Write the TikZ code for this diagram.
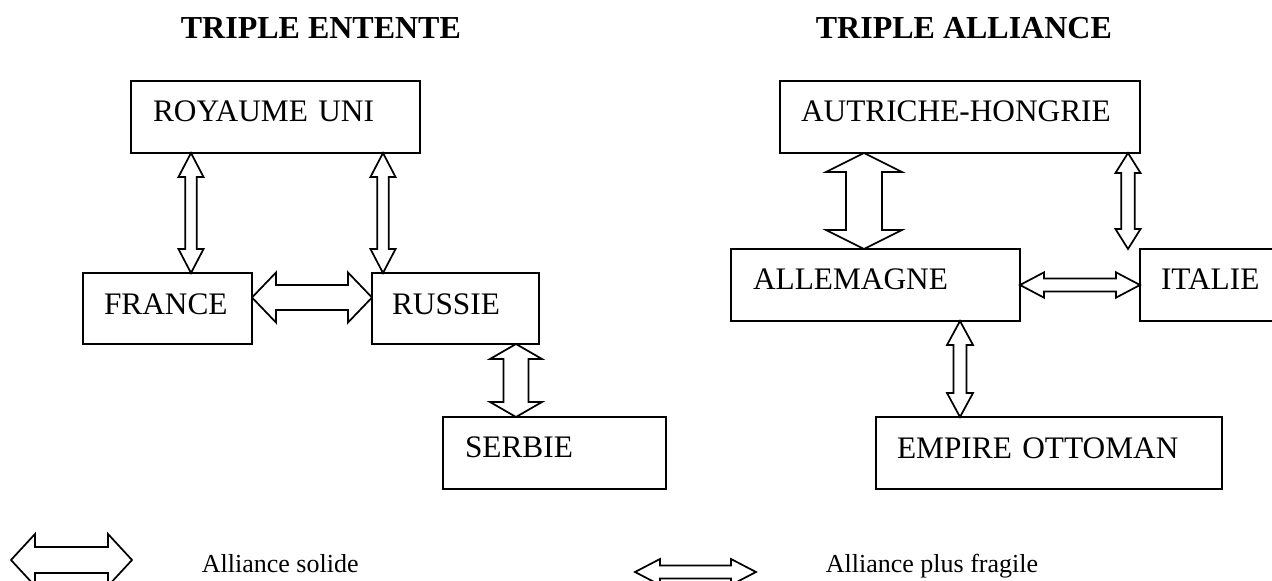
\documentclass[tikz,border=0pt]{standalone}
\usepackage{fontspec}
\setmainfont{Liberation Serif}
\usetikzlibrary{calc}

\begin{document}
\begin{tikzpicture}[x = 0.75pt, y = -0.75pt, line width = 1.3pt,
                        box/.style = {draw, anchor = north west, outer sep = 0pt, inner ysep = 0pt, align = left,
                                      font = \fontsize{23.5pt}{28pt}\selectfont},
                        title/.style = {anchor = base west, inner sep = 0pt, font = \fontsize{24pt}{29pt}\selectfont\bfseries},
                        legend/.style = {anchor = base west, inner sep = 0pt, font = \fontsize{19.5pt}{23pt}\selectfont},
                        alliance/.style n args = {3}{line join = miter,
                          to path = {let \p1 = (\tikztostart), \p2 = (\tikztotarget),
                                         \n1 = {atan2(\y2-\y1,\x2-\x1)}, \n2 = {veclen(\x2-\x1,\y2-\y1)} in
                                     [shift = {(\p1)}, rotate = \n1]
                                     (0pt,0pt) -- (#3,#2) -- (#3,#1) -- ({\n2*1pt-#3},#1) -- ({\n2*1pt-#3},#2)
                                     -- ({\n2*1pt},0pt) -- ({\n2*1pt-#3},-#2) -- ({\n2*1pt-#3},-#1)
                                     -- (#3,-#1) -- (#3,-#2) -- cycle}}]
      \useasboundingbox (0,0) rectangle (1272,581);

      \node [title] (entente) at (180,39) {TRIPLE ENTENTE};
      \node [title] (triplice) at (815,39) {TRIPLE ALLIANCE};

      \node [box, inner xsep = 16.5pt, text width = 183.75pt, text height = 30.75pt, text depth = 23.25pt] (uk) at (131,81) {ROYAUME UNI};
      \node [box, inner xsep = 15.75pt, text width = 95.25pt, text height = 31.5pt, text depth = 21.75pt] (fr) at (83,273) {FRANCE};
      \node [box, inner xsep = 15pt, text width = 95.25pt, text height = 31.5pt, text depth = 21.75pt] (rus) at (372,273) {RUSSIE};
      \node [box, inner xsep = 16.5pt, text width = 134.25pt, text height = 30pt, text depth = 24pt] (se) at (443,417) {SERBIE};

      \node [box, inner xsep = 15.75pt, text width = 238.5pt, text height = 30.75pt, text depth = 23.25pt] (ah) at (780,81) {AUTRICHE-HONGRIE};
      \node [box, inner xsep = 16.5pt, text width = 183.75pt, text height = 30.75pt, text depth = 23.25pt] (al) at (731,249) {ALLEMAGNE};
      \node [box, inner xsep = 15.75pt, text width = 81pt, text height = 30.75pt, text depth = 23.25pt] (it) at (1140,249) {ITALIE};
      \node [box, inner xsep = 15.75pt, text width = 228pt, text height = 30.75pt, text depth = 23.25pt] (eo) at (876,417) {EMPIRE OTTOMAN};

      \coordinate (uk-fr) at ($(uk.south west)+(60,0)$);
      \coordinate (uk-rus) at ($(uk.south east)+(-37,0)$);
      \coordinate (fr-rus) at ($(fr.east)+(0,-11)$);
      \coordinate (rus-se) at ($(rus.south west)+(144,0)$);
      \coordinate (ah-al) at ($(ah.south west)+(84,0)$);
      \coordinate (ah-it) at ($(ah.south east)+(-12,0)$);
      \coordinate (al-eo) at ($(al.south west)+(229,0)$);

      \draw [alliance = {4.3pt}{9.4pt}{18pt}] (uk-fr) to (uk-fr |- fr.north);
      \draw [alliance = {4.3pt}{9.4pt}{18pt}] (uk-rus) to (uk-rus |- rus.north);
      \draw [alliance = {9.4pt}{18.75pt}{18pt}] (fr-rus) to (fr-rus -| rus.west);
      \draw [alliance = {9.4pt}{19.5pt}{11.25pt}] (rus-se) to (rus-se |- se.north);

      \draw [alliance = {13.5pt}{28.5pt}{14.25pt}] (ah-al) to (ah-al |- al.north);
      \draw [alliance = {5pt}{9.4pt}{15pt}] (ah-it) to (ah-it |- it.north);
      \draw [alliance = {4.9pt}{9.5pt}{18pt}] (al.east) to (al.east -| it.west);
      \draw [alliance = {4.9pt}{9.75pt}{18pt}] (al-eo) to (al-eo |- eo.north);

      % legende
      \coordinate (solide-a) at (11,560);
      \coordinate (solide-b) at (132,560);
      \coordinate (fragile-a) at (635,572);
      \coordinate (fragile-b) at (756,572);
      \draw [alliance = {9.75pt}{19.5pt}{18pt}] (solide-a) to (solide-b);
      \draw [alliance = {4.9pt}{9.75pt}{18.75pt}] (fragile-a) to (fragile-b);
      \node [legend] (solide) at (201,572) {Alliance solide};
      \node [legend] (fragile) at (825,572) {Alliance plus fragile};
    \end{tikzpicture}
\end{document}
